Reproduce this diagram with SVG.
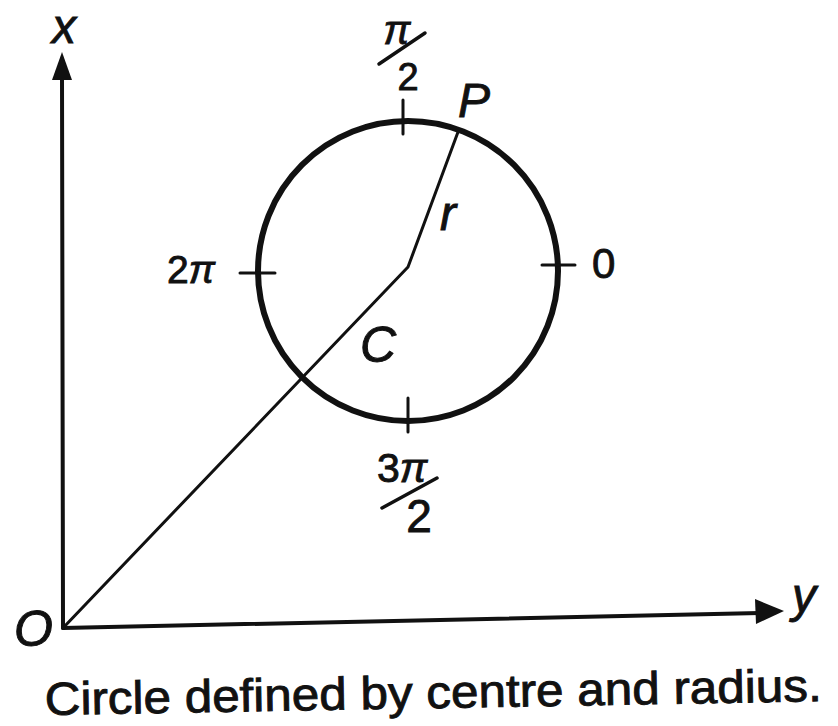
<svg xmlns="http://www.w3.org/2000/svg" width="838" height="726" viewBox="0 0 838 726">
<style>
.ln{stroke:#111;fill:none;stroke-linecap:round;stroke-linejoin:round}
.t{font-family:"Liberation Sans",Arial,sans-serif;fill:#111;stroke:#111;stroke-width:0.9}
.i{font-style:italic}
</style>
<rect width="838" height="726" fill="#fff"/>
<g id="connectors">
<g id="x-axis">
<line class="ln" x1="63" y1="628" x2="62" y2="74" stroke-width="4"/>
<polygon points="62,52 52,80 72,80" fill="#111"/>
</g>
<g id="y-axis">
<line class="ln" x1="63" y1="628" x2="760" y2="613" stroke-width="4"/>
<polygon points="784,611 755,599 756,624" fill="#111"/>
</g>
<polyline id="radius-line" class="ln" points="63,628 408,267 458,132" stroke-width="3"/>
</g>
<g id="circle">
<circle class="ln" cx="408" cy="271" r="150" stroke-width="6"/>
<line class="ln" x1="403" y1="100" x2="403" y2="134" stroke-width="3"/>
<line class="ln" x1="408" y1="398" x2="408" y2="432" stroke-width="3"/>
<line class="ln" x1="240" y1="273" x2="275" y2="273" stroke-width="3"/>
<line class="ln" x1="542" y1="265" x2="575" y2="265" stroke-width="3"/>
</g>
<g id="labels">
<text class="t i" x="52" y="43" font-size="48">x</text>
<text class="t i" x="792" y="612" font-size="48">y</text>
<text class="t i" x="14" y="646" font-size="50">O</text>
<text class="t i" x="458" y="117" font-size="48">P</text>
<text class="t i" x="440" y="230" font-size="48">r</text>
<text class="t i" x="360" y="362" font-size="50">C</text>
<text class="t" x="592" y="278" font-size="42">0</text>
<g id="label-pi-2">
<text class="t i" x="397" y="44" font-size="40" text-anchor="middle">π</text>
<line class="ln" x1="379" y1="64" x2="425" y2="33" stroke-width="3.5"/>
<text class="t" x="408" y="90" font-size="38" text-anchor="middle">2</text>
</g>
<text class="t" x="167" y="283" font-size="39">2<tspan class="i">π</tspan></text>
<g id="label-3pi-2">
<text class="t" x="377" y="482" font-size="41">3<tspan class="i">π</tspan></text>
<line class="ln" x1="382" y1="508" x2="437" y2="478" stroke-width="3.5"/>
<text class="t" x="419" y="532" font-size="46" text-anchor="middle">2</text>
</g>
</g>
<text id="caption" class="t" x="45" y="715" font-size="46" textLength="777" lengthAdjust="spacingAndGlyphs" transform="rotate(-1.03 45 715)">Circle defined by centre and radius.</text>
</svg>
